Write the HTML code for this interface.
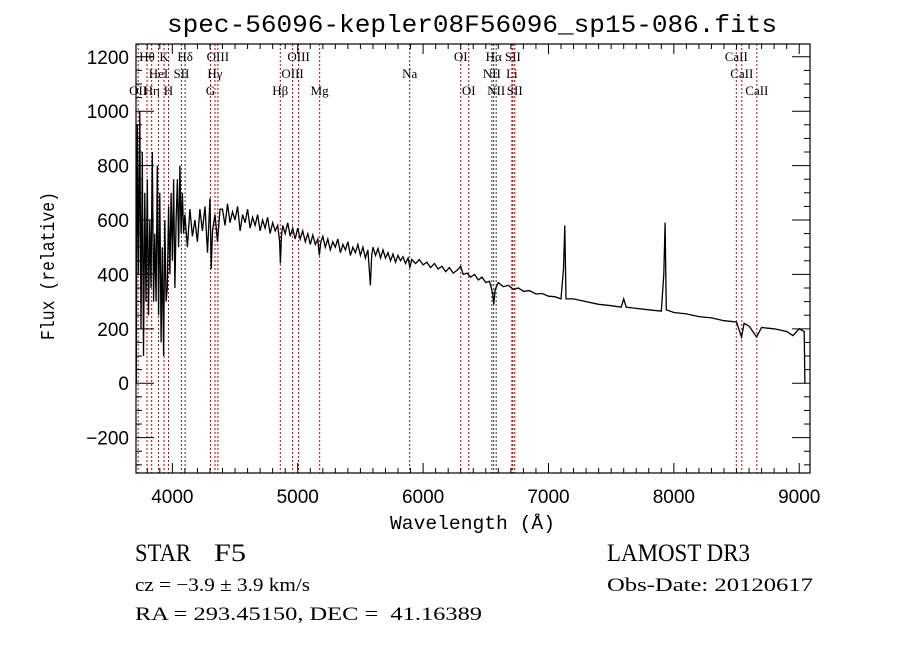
<!DOCTYPE html>
<html><head><meta charset="utf-8"><style>
html,body{margin:0;padding:0;background:#fff;}
svg{display:block;}
text{fill:#000;}
.lbl{font-family:"Liberation Serif",serif;font-size:13px;}
.tk{font-family:"Liberation Sans",sans-serif;font-size:19px;}
.info{font-family:"Liberation Serif",serif;}
</style></head><body>
<svg id="chart" width="900" height="649" viewBox="0 0 900 649">
<text x="167" y="32" textLength="610" lengthAdjust="spacingAndGlyphs" font-family="Liberation Mono, monospace" font-size="25">spec-56096-kepler08F56096_sp15-086.fits</text>
<g id="lines"></g>
<g id="spec"></g>
<g id="axes"></g>
<text x="390" y="529" textLength="165" lengthAdjust="spacingAndGlyphs" font-family="Liberation Mono, monospace" font-size="19">Wavelength (Å)</text>
<text x="54" y="340" textLength="148" lengthAdjust="spacingAndGlyphs" transform="rotate(-90 54 340)" font-family="Liberation Mono, monospace" font-size="19">Flux (relative)</text>
<text class="info" x="135" y="561" font-size="25" textLength="56" lengthAdjust="spacingAndGlyphs">STAR</text>
<text class="info" x="214" y="561" font-size="25" textLength="32" lengthAdjust="spacingAndGlyphs">F5</text>
<text class="info" x="135" y="591" font-size="19" textLength="175" lengthAdjust="spacingAndGlyphs">cz = −3.9 ± 3.9 km/s</text>
<text class="info" x="135" y="620" font-size="19" textLength="347" lengthAdjust="spacingAndGlyphs">RA = 293.45150, DEC = &#160;41.16389</text>
<text class="info" x="607" y="561" font-size="25" textLength="143" lengthAdjust="spacingAndGlyphs">LAMOST DR3</text>
<text class="info" x="607" y="591" font-size="19" textLength="206" lengthAdjust="spacingAndGlyphs">Obs-Date: 20120617</text>
</svg>
<script>
const waves=[3712,3714,3720,3730,3740,3750,3760,3770,3780,3790,3800,3810,3820,3830,3840,3850,3860,3870,3880,3890,3900,3910,3920,3930,3940,3950,3960,3970,3980,3990,4000,4010,4020,4030,4040,4050,4060,4070,4080,4090,4100,4120,4140,4160,4180,4200,4220,4240,4260,4280,4300,4310,4320,4340,4360,4380,
4400,4420,4440,4460,4480,4500,4520,4540,4560,4580,4600,4620,4640,4660,4680,4700,4720,4740,4760,4780,4800,4820,4840,4855,4862,4870,4880,4900,4920,4940,4960,4980,5000,5020,5040,5060,5080,5100,5120,5140,5160,5172,5185,5200,5220,5240,5260,5280,5300,5320,5340,5360,5380,5400,5420,5440,5460,5480,5500,5520,5540,5560,5580,5590,5600,5620,5640,5660,5680,5700,5720,5740,5760,5780,5800,5820,5840,5860,5880,5895,5910,5940,5970,6000,6030,6060,6090,6120,6150,6180,6210,6240,6270,6300,6320,6350,6380,6410,6440,6470,6500,6530,6555,6563,6575,6600,6640,6680,6720,6760,6800,6850,6900,6950,7000,7050,7100,
7120,7130,7140,7200,7300,7400,7500,7580,7600,7620,7700,7800,7900,7920,7930,7940,8000,8100,8200,8300,8400,8500,8540,8560,8600,8660,8700,8800,8900,8950,9000,9040,9045];
const fluxes=[0,300,950,400,1000,200,850,100,700,300,750,250,600,350,850,300,550,300,800,250,700,150,500,100,600,300,350,650,400,700,450,750,350,600,750,500,800,550,700,550,620,500,640,540,600,520,640,560,650,480,680,420,560,620,520,640,
640,580,660,590,630,600,650,560,620,590,640,570,610,580,620,560,600,570,610,550,590,560,580,520,440,540,580,550,590,540,570,530,570,530,560,520,550,510,545,510,530,470,520,540,500,530,490,520,500,530,480,510,490,520,470,500,480,510,470,500,460,490,360,470,500,470,495,460,490,460,480,450,475,445,470,450,465,440,460,425,455,440,455,435,445,425,440,420,430,410,425,405,415,430,400,405,390,400,380,390,370,375,330,290,345,370,355,360,345,350,338,340,328,330,320,318,310,
420,580,310,310,300,290,285,280,310,280,275,270,265,400,590,270,260,255,245,240,230,225,170,220,210,170,205,200,190,175,200,190,0];
const lineWaves=[3727,3798,3835,3889,3934,3969,4072,4102,4304,4340,4363,4861,4959,5007,5175,5893,6300,6364,6548,6563,6583,6708,6716,6731,8498,8542,8662];
const lineNames=["OII","Hθ","Hη","HeI","K","H","SII","Hδ","G","Hγ","OIII","Hβ","OIII","OIII","Mg","Na","OI","OI","NII","Hα","NII","Li","SII","SII","CaII","CaII","CaII"];
const lineRows=[2,0,2,1,0,2,1,0,2,1,0,2,1,0,2,1,0,2,1,0,2,1,0,2,0,1,2];
const lineBlack=[0,0,0,0,0,0,1,1,0,0,0,0,0,0,0,1,0,0,1,1,1,0,0,0,0,0,0];
const xTicks=[4000,5000,6000,7000,8000,9000];
const yTicks=[-200,0,200,400,600,800,1000,1200];

const L=136,R=810,T=44,B=473;
const XMIN=3710,XMAX=9086,YMIN=-330,YMAX=1247;
const X=w=>L+(w-XMIN)/(XMAX-XMIN)*(R-L);
const Y=f=>B-(f-YMIN)/(YMAX-YMIN)*(B-T);
const NS='http://www.w3.org/2000/svg';
function mk(tag,attrs,parent){const e=document.createElementNS(NS,tag);for(const k in attrs)e.setAttribute(k,attrs[k]);parent.appendChild(e);return e;}

const lg=document.getElementById('lines');
const rowY=[61,78,95];
lineWaves.forEach((w,i)=>{
  const x=X(w);
  const ln=mk('line',{x1:x,x2:x,y1:T,y2:B,stroke:lineBlack[i]?'#333':'#c00000','stroke-width':1,'stroke-dasharray':'2,2'},lg);
  
  
  const t=mk('text',{x:x,y:rowY[lineRows[i]],'text-anchor':'middle',class:'lbl'},lg);
  t.textContent=lineNames[i];
  
  
});

const sg=document.getElementById('spec');
const pts=waves.map((w,i)=>X(w).toFixed(1)+','+Y(fluxes[i]).toFixed(1)).join(' ');
const pl=mk('polyline',{points:pts,fill:'none',stroke:'#000','stroke-width':1.3},sg);



const ag=document.getElementById('axes');
const fr=mk('rect',{x:L,y:T,width:R-L,height:B-T,fill:'none',stroke:'#000','stroke-width':1.2},ag);


for(let w=3800;w<=XMAX;w+=100){
  const x=X(w),maj=w%1000===0,len=maj?10:5;
  mk('line',{x1:x,x2:x,y1:B,y2:B-len,stroke:'#000'},ag);
  mk('line',{x1:x,x2:x,y1:T,y2:T+len,stroke:'#000'},ag);
}
xTicks.forEach(v=>{
  const t=mk('text',{x:X(v),y:B+30,'text-anchor':'middle',class:'tk'},ag);
  t.textContent=v;
  
  
});
for(let f=-300;f<=1200;f+=50){
  const y=Y(f),maj=f%200===0,len=maj?18:6;
  mk('line',{x1:L,x2:L+len,y1:y,y2:y,stroke:'#000'},ag);
  mk('line',{x1:R,x2:R-len,y1:y,y2:y,stroke:'#000'},ag);
}
yTicks.forEach(v=>{
  const t=mk('text',{x:L-7,y:Y(v)+7,'text-anchor':'end',class:'tk'},ag);
  t.textContent=v<0?'−'+Math.abs(v):v;
  
  
});
</script>
</body></html>
